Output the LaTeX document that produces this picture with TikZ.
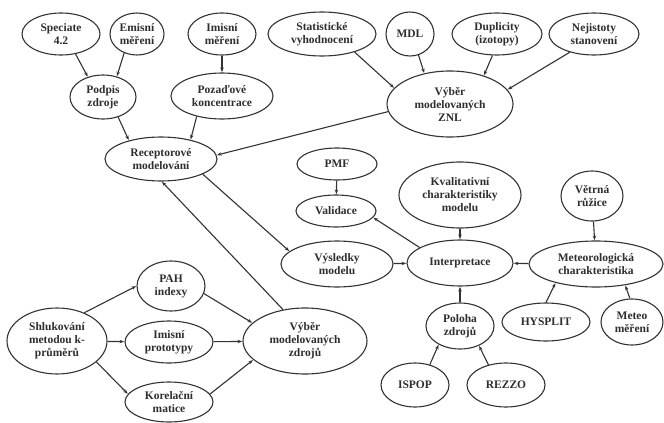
\documentclass[tikz,border=0pt]{standalone}
\usepackage{fontspec}
\setmainfont{Liberation Serif}
\usetikzlibrary{shapes.geometric,arrows.meta}
\begin{document}
\begin{tikzpicture}[x=1pt,y=-1pt,
 el/.style={draw=black!80, line width=1.1pt, ellipse, inner sep=0.5pt, align=center,
   font=\fontsize{11.5}{13}\selectfont\bfseries, text=black!82},
 ar/.style={-{Stealth[length=4.6pt,width=3.4pt]}, draw=black!80, line width=1.1pt, shorten >=0.3pt}]
\useasboundingbox[fill=white] (0,0) rectangle (664,423);
% top row
\node[el, minimum width=78, minimum height=42] (spec) at (61,34) {Speciate\\4.2};
\node[el, minimum width=54, minimum height=42] (emis) at (137,34) {Emisní\\měření};
\node[el, minimum width=68, minimum height=42] (imis) at (222,34) {Imisní\\měření};
\node[el, minimum width=108, minimum height=44] (stat) at (322,34) {Statistické\\vyhodnocení};
\node[el, minimum width=48, minimum height=44] (mdl) at (410,34) {MDL};
\node[el, minimum width=90, minimum height=42] (dup) at (497,34) {Duplicity\\(izotopy)};
\node[el, minimum width=90, minimum height=42] (nej) at (594,34) {Nejistoty\\stanovení};
% second level
\node[el, minimum width=126, minimum height=66] (znl) at (450,104) {Výběr\\modelovaných\\ZNL};
\node[el, minimum width=66, minimum height=44] (podp) at (103,97) {Podpis\\zdroje};
\node[el, minimum width=102, minimum height=46] (poz) at (222,96) {Pozaďové\\koncentrace};
\node[el, minimum width=112, minimum height=44] (rec) at (161,159) {Receptorové\\modelování};
% middle
\node[el, minimum width=80, minimum height=32] (pmf) at (337,164) {PMF};
\node[el, minimum width=80, minimum height=32] (val) at (336,211) {Validace};
\node[el, minimum width=122, minimum height=66] (kval) at (460,195) {Kvalitativní\\charakteristiky\\modelu};
\node[el, minimum width=62, minimum height=50] (vetr) at (592,196) {Větrná\\růžice};
\node[el, minimum width=112, minimum height=46] (vysl) at (337,264) {Výsledky\\modelu};
\node[el, minimum width=106, minimum height=46] (intp) at (460,263) {Interpretace};
\node[el, minimum width=134, minimum height=46] (met) at (596,264) {Meteorologická\\charakteristika};
\node[el, minimum width=68, minimum height=46] (pol) at (460,326) {Poloha\\zdrojů};
\node[el, minimum width=88, minimum height=38] (hys) at (546,322) {HYSPLIT};
\node[el, minimum width=62, minimum height=46] (mm) at (632,322) {Meteo\\měření};
\node[el, minimum width=68, minimum height=44] (ispop) at (415,385) {ISPOP};
\node[el, minimum width=78, minimum height=44] (rezzo) at (506,385) {REZZO};
% bottom left
\node[el, minimum width=68, minimum height=50] (pah) at (171,286) {PAH\\indexy};
\node[el, minimum width=100, minimum height=66] (shl) at (57,341) {Shlukování\\metodou k-\\průměrů};
\node[el, minimum width=88, minimum height=42] (ipro) at (169,342) {Imisní\\prototypy};
\node[el, minimum width=88, minimum height=40] (kor) at (169,402) {Korelační\\matice};
\node[el, minimum width=124, minimum height=66] (vz) at (305,341) {Výběr\\modelovaných\\zdrojů};
% connectors
\draw[ar] (spec.-54) -- (podp.127);
\draw[ar] (emis.-124) -- (podp.56);
\draw[ar] (imis) -- (poz);
\draw[ar] (podp.-53) -- (rec.150);
\draw[ar] (poz.-141) -- (rec.33);
\draw[ar] (stat.-29) -- (znl.164);
\draw[ar] (mdl.-68) -- (znl.130);
\draw[ar] (dup.-102) -- (znl.40);
\draw[ar] (nej.-143) -- (znl.14);
\draw[ar] (znl.-173) -- (rec.4);
\draw[ar] (rec.-20) -- (vysl.165);
\draw[ar] (vz.125) -- (rec.-88);
\draw[ar] (pmf) -- (val);
\draw[ar] (intp.159) -- (val.-10);
\draw[ar] (kval) -- (intp);
\draw[ar] (vysl) -- (intp);
\draw[ar] (met) -- (intp);
\draw[ar] (vetr) -- (met);
\draw[ar] (hys.north) -- (met.-155);
\draw[ar] (mm.95) -- (met.-36);
\draw[ar] (pol) -- (intp);
\draw[ar] (ispop.54) -- (pol.-139);
\draw[ar] (rezzo.131) -- (pol.-46);
\draw[ar] (shl.46) -- (pah.west);
\draw[ar] (shl) -- (ipro);
\draw[ar] (shl.-28) -- (kor.169);
\draw[ar] (pah.-13) -- (vz.161);
\draw[ar] (ipro) -- (vz);
\draw[ar] (kor.11) -- (vz.-160);
\end{tikzpicture}
\end{document}
